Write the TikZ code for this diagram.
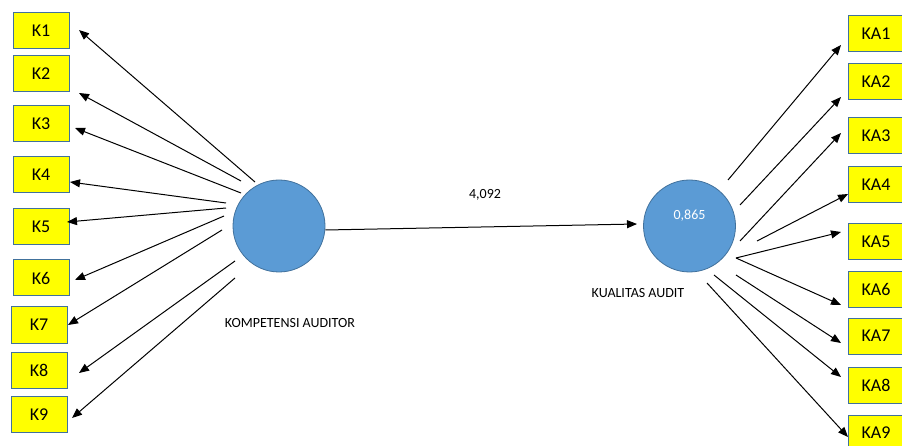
\documentclass[tikz,border=0pt]{standalone}
\usepackage{fontspec}
\setmainfont{Carlito}
\usetikzlibrary{arrows.meta}

\definecolor{kuning}{HTML}{FFFF00}
\definecolor{birulaten}{HTML}{5B9BD5}
\definecolor{garisbiru}{HTML}{41719C}

\tikzset{
    indikator/.style={draw=garisbiru, line width=1pt, fill=kuning, minimum width=56pt,
        minimum height=36pt, inner sep=0pt, font=\fontsize{18}{20}\selectfont},
    laten/.style={circle, draw=garisbiru, line width=0.8pt, fill=birulaten,
        minimum size=92pt, inner sep=0pt},
    panah/.style={line width=1pt, -{Triangle[length=10pt,width=8pt]}},
    teks/.style={font=\fontsize{14}{16}\selectfont}
}

\begin{document}
\begin{tikzpicture}[x=1pt, y=-1pt]
    \useasboundingbox (0,0) rectangle (902,446);
    \clip (0,0) rectangle (902,446);

    % Variabel laten
    \node[laten] (KOMP) at (279,226) {};
    \node[laten] (KUAL) at (689.5,226) {};
    \node[teks, text=white] (rsq) at ([yshift=10pt]KUAL.center) {0,865};

    % Nama variabel
    \node[teks] (lblKOMP) at (290,323) {KOMPETENSI AUDITOR};
    \node[teks] (lblKUAL) at (638,293) {KUALITAS AUDIT};

    % Jalur struktural
    \coordinate (ujung) at (637,224);
    \draw[panah] ([yshift=-4pt]KOMP.east) -- (ujung);
    \node[teks] (bobot) at (485,195) {4,092};

    % Indikator kompetensi auditor
    \foreach \n/\x/\y in {1/41/31, 2/41/74, 3/41/124, 4/41/175, 5/41/227,
                          6/41/278, 7/39/325, 8/39/370, 9/39/414.5}
        \node[indikator] (K\n) at (\x,\y) {K\n};

    % Indikator kualitas audit
    \foreach \n/\y in {1/33.5, 2/82, 3/136, 4/185, 5/242, 6/289.5, 7/336, 8/385, 9/433}
        \node[indikator] (KA\n) at (876,\y) {KA\n};

    % Panah ke indikator kiri
    \foreach \n/\sx/\sy/\tx/\ty in {1/255/182/79/30, 2/241/181/79/93, 3/241/193/75/128,
                                    4/226/203/70/182, 5/226/208/67/222, 6/224/216/75/280,
                                    7/222/230/68/325, 8/235/261/79/373, 9/235/278/72/418} {
        \coordinate (aK\n) at (\sx,\sy);
        \coordinate (uK\n) at (\tx,\ty);
        \draw[panah] (aK\n) -- (uK\n);
    }

    % Panah ke indikator kanan
    \foreach \n/\sx/\sy/\tx/\ty in {1/728/180/841/45, 2/740/205/841/97, 3/740/241/841/133,
                                    4/757/241/848/194, 5/736/258/841/232, 6/736/258/841/305,
                                    7/736/275/841/343, 8/714/275/841/377, 9/707/283/848/437} {
        \coordinate (aKA\n) at (\sx,\sy);
        \coordinate (uKA\n) at (\tx,\ty);
        \draw[panah] (aKA\n) -- (uKA\n);
    }
\end{tikzpicture}
\end{document}
